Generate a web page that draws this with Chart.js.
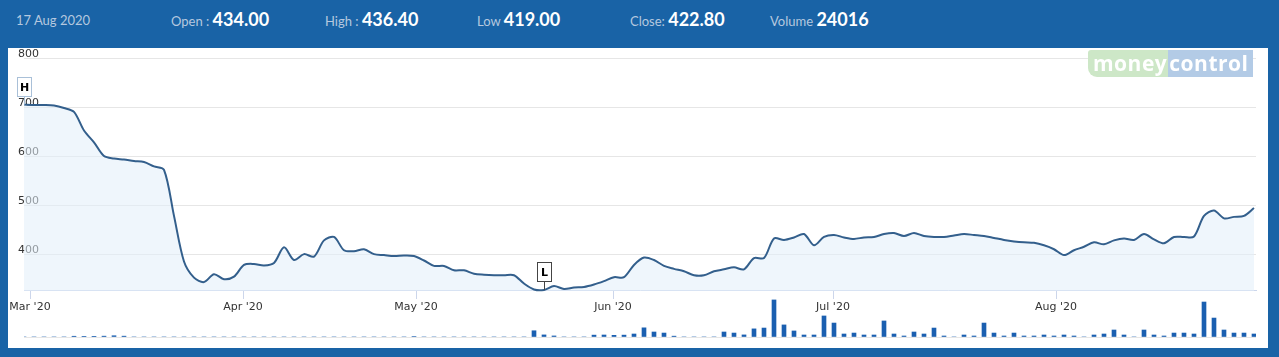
<!DOCTYPE html>
<html>
<head>
<meta charset="utf-8">
<script src="https://cdn.jsdelivr.net/npm/chart.js@4"></script>
<style>
  body { margin: 0; width: 1279px; height: 357px; overflow: hidden; position: relative; background: #1963a6; font-family: Lato, sans-serif; }
  .hdr { position: absolute; top: 9px; line-height: 20px; white-space: nowrap; }
  .lbl { font-size: 13px; color: #b5c8df; }
  .val { font-size: 18px; font-weight: bold; color: #fff; }
  #panel { position: absolute; left: 8px; top: 48px; width: 1260px; height: 300px; background: #fff; }
  #wm { position: absolute; left: 1088px; top: 50px; height: 27px; display: flex; font: bold 21px "Open Sans", sans-serif; color: #fff; line-height: 27px; letter-spacing: 0.5px; }
  #wm .g { background: #cde7c7; padding: 0 1px 0 5px; border-radius: 3px 0 0 9px; }
  #wm .b { background: #b3cbe6; padding: 0 5px 0 1px; }
</style>
</head>
<body>
<div class="hdr" style="left:16px"><span class="lbl">17 Aug 2020</span></div>
<div class="hdr" style="left:171px"><span class="lbl">Open : </span><span class="val">434.00</span></div>
<div class="hdr" style="left:325px"><span class="lbl">High : </span><span class="val">436.40</span></div>
<div class="hdr" style="left:477px"><span class="lbl">Low </span><span class="val">419.00</span></div>
<div class="hdr" style="left:630px"><span class="lbl">Close: </span><span class="val">422.80</span></div>
<div class="hdr" style="left:770px"><span class="lbl">Volume </span><span class="val">24016</span></div>
<div id="panel"><canvas id="priceChart" width="1260" height="300"></canvas></div>
<div id="wm"><span class="g">money</span><span class="b">control</span></div>
<script>
// one value per trading day, 28 Feb 2020 onwards
const prices = [
  705, 704, 704, 703, 698, 690, 652, 628, 600, 595,
  593, 590, 588, 579, 572, 478, 385, 352, 343, 359,
  349, 354, 378, 380, 377, 382, 414, 388, 400, 395,
  428, 435, 408, 406, 410, 400, 398, 396, 397, 396,
  387, 376, 376, 367, 367, 360, 358, 357, 357, 357,
  340, 328, 327, 335, 329, 332, 333, 338, 345, 353,
  353, 378, 393, 388, 376, 370, 365, 357, 357, 365,
  369, 373, 369, 392, 392, 432, 429, 434, 441, 418,
  435, 439, 434, 431, 434, 435, 441, 443, 437, 443,
  437, 435, 435, 438, 441, 439, 437, 433, 429, 426,
  424, 423, 418, 410, 398, 408, 415, 424, 420, 428,
  432, 429, 441, 430, 422, 435, 435, 436, 478, 489,
  473, 476, 478, 494
];
const volumes = [
  0, 0, 0, 0, 0, 18000, 15000, 16000, 20000, 30000,
  20000, 0, 0, 0, 0, 0, 0, 0, 0, 0,
  0, 0, 0, 0, 0, 0, 0, 0, 0, 0,
  0, 0, 0, 0, 0, 0, 0, 0, 0, 12000,
  0, 0, 0, 0, 0, 0, 0, 0, 0, 0,
  0, 150000, 50000, 25000, 0, 0, 0, 45000, 48000, 40000,
  45000, 72000, 220000, 120000, 95000, 20000, 0, 0, 0, 0,
  120000, 95000, 50000, 195000, 215000, 890000, 290000, 145000, 48000, 48000,
  505000, 335000, 72000, 95000, 48000, 48000, 385000, 72000, 24000, 120000,
  72000, 215000, 24000, 0, 48000, 24000, 335000, 95000, 24000, 95000,
  24000, 24000, 48000, 24000, 48000, 24000, 0, 48000, 72000, 168000,
  48000, 0, 168000, 48000, 24016, 95000, 95000, 72000, 840000, 455000,
  168000, 95000, 95000, 72000
];
const monthTicks = [0.6, 21.9, 39.2, 58.9, 80.9, 103.2];
const monthLabels = ["Mar '20", "Apr '20", "May '20", "Jun '20", "Jul '20", "Aug '20"];
const priceTicks = [400, 500, 600, 700, 800];

// H / L flags at the highest and lowest close
const hlFlags = {
  id: "hlFlags",
  afterDatasetsDraw(chart) {
    const { ctx, scales } = chart;
    const hi = prices.indexOf(Math.max(...prices));
    const lo = prices.indexOf(Math.min(...prices));
    [[hi, "H", "#a9c0d8"], [lo, "L", "#444"]].forEach(([i, txt, col]) => {
      const px = Math.round(scales.x.getPixelForValue(i)) + 0.5;
      const py = scales.y.getPixelForValue(prices[i]);
      const w = 14, h = 19, top = Math.round(py - 9 - h) + 0.5;
      ctx.save();
      ctx.strokeStyle = col;
      ctx.lineWidth = 1;
      ctx.beginPath();
      ctx.moveTo(px, top + h);
      ctx.lineTo(px, py);
      ctx.stroke();
      ctx.fillStyle = "#fff";
      ctx.fillRect(px - w / 2, top, w, h);
      ctx.strokeRect(px - w / 2, top, w, h);
      ctx.fillStyle = "#000";
      ctx.font = "bold 11px 'DejaVu Sans'";
      ctx.textAlign = "center";
      ctx.textBaseline = "middle";
      ctx.fillText(txt, px, top + h / 2 + 1);
      ctx.restore();
    });
  }
};

const tickFont = { family: "DejaVu Sans", size: 11 };

new Chart(document.getElementById("priceChart"), {
  data: {
    datasets: [
      {
        type: "line",
        data: prices.map((v, i) => ({ x: i, y: v })),
        yAxisID: "y",
        borderColor: "#335f8c",
        borderWidth: 2,
        backgroundColor: "rgba(226,238,250,0.55)",
        fill: { value: 325 },
        pointRadius: 0,
        tension: 0.3,
      },
      {
        type: "bar",
        data: volumes.map((v, i) => ({ x: i, y: v })),
        yAxisID: "yv",
        backgroundColor: "#1a5fb0",
        barThickness: 4,
      },
    ],
  },
  options: {
    responsive: false,
    animation: false,
    layout: { padding: { left: 16, right: 12, top: 10, bottom: 11 } },
    plugins: { legend: { display: false }, tooltip: { enabled: false } },
    scales: {
      x: {
        type: "linear",
        min: 0,
        max: 123.2,
        offset: false,
        position: { y: 325 },
        afterBuildTicks: (s) => { s.ticks = monthTicks.map((v) => ({ value: v })); },
        afterFit: (s) => { s.paddingLeft = 0; s.paddingRight = 0; },
        ticks: { callback: (v, i) => monthLabels[i], font: tickFont, color: "#333", padding: 2, maxRotation: 0, autoSkip: false },
        grid: { drawOnChartArea: false, offset: false, tickLength: 8, color: "#ccd6eb" },
        border: { color: "#ccd6eb" },
      },
      y: {
        position: "left",
        min: 231,
        max: 800,
        afterBuildTicks: (s) => { s.ticks = priceTicks.map((v) => ({ value: v })); },
        afterFit: (s) => { s.width = 0; },
        ticks: { mirror: true, padding: -6, labelOffset: -4, font: tickFont, color: "#333" },
        grid: { color: "#e6e6e6", drawTicks: false },
        border: { display: false },
      },
      yv: {
        position: "left",
        min: 0,
        max: 6700000,
        afterBuildTicks: (s) => { s.ticks = [{ value: 0 }]; },
        afterFit: (s) => { s.width = 0; },
        ticks: { display: false },
        grid: { color: "#e6e6e6", drawTicks: false },
        border: { display: false },
      },
    },
  },
  plugins: [hlFlags],
});
</script>
</body>
</html>
